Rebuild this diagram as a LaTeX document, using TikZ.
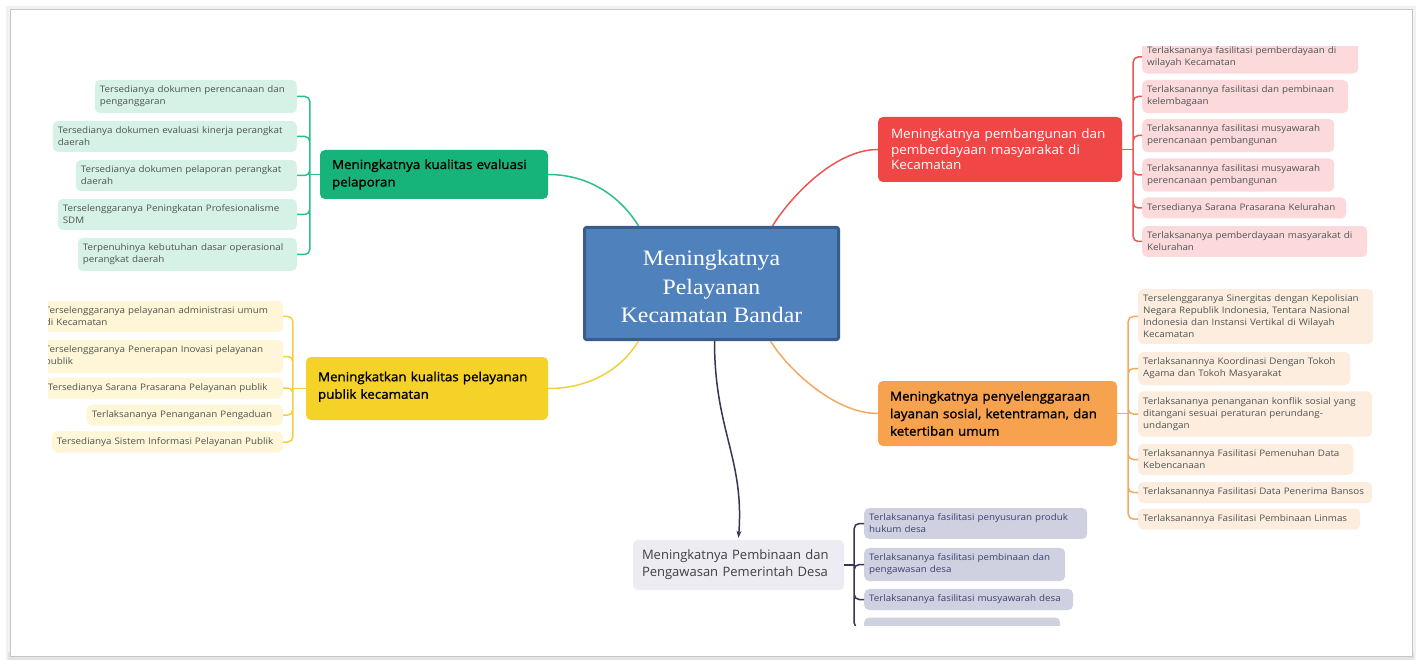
\documentclass[tikz,border=0pt]{standalone}
\usepackage{fontspec}
\setmainfont{Open Sans}
\newfontfamily\hubfont[FakeStretch=1.08]{Liberation Serif}
\newfontfamily\branchfont[FakeBold=1.2,FakeStretch=1.07]{Open Sans}
\newfontfamily\redfont[FakeStretch=1.04]{Open Sans}
\newfontfamily\leaffont[FakeStretch=1.09]{Open Sans}
\usetikzlibrary{positioning,arrows.meta}

\definecolor{hubfill}{HTML}{4F81BD}
\definecolor{hubdraw}{HTML}{385D8A}
\definecolor{gmain}{RGB}{22,180,122}
\definecolor{gleaffill}{RGB}{214,242,230}
\definecolor{gstroke}{RGB}{45,192,135}
\definecolor{ymain}{RGB}{245,210,40}
\definecolor{yleaffill}{RGB}{254,246,214}
\definecolor{ystroke}{RGB}{242,208,60}
\definecolor{rmain}{RGB}{240,70,70}
\definecolor{rleaffill}{RGB}{252,218,220}
\definecolor{rstroke}{RGB}{236,85,85}
\definecolor{omain}{RGB}{246,162,78}
\definecolor{oleaffill}{RGB}{253,237,222}
\definecolor{ostroke}{RGB}{245,168,95}
\definecolor{pmain}{RGB}{236,236,242}
\definecolor{pleaffill}{RGB}{208,209,224}
\definecolor{pstroke}{RGB}{52,54,82}
\definecolor{leaftext}{RGB}{78,84,82}
\definecolor{pleaftext}{RGB}{62,64,112}

\tikzset{
    hub/.style={rectangle, rounded corners=2pt, fill=hubfill, draw=hubdraw, line width=3pt,
        text=white, align=center, font=\hubfont\fontsize{22}{28.5}\selectfont,
        minimum width=254pt, minimum height=112pt},
    branch/.style={rectangle, rounded corners=5pt, inner xsep=12pt, align=left,
        font=\branchfont\fontsize{12.5}{17.5}\selectfont},
    leaf/.style={rectangle, rounded corners=5pt, inner xsep=5pt, inner ysep=6pt, align=left,
        text=leaftext, font=\leaffont\fontsize{9}{12}\selectfont},
    gleaf/.style={leaf, fill=gleaffill, anchor=east},
    yleaf/.style={leaf, fill=yleaffill, anchor=east},
    rleaf/.style={leaf, fill=rleaffill, anchor=west},
    oleaf/.style={leaf, fill=oleaffill, anchor=west},
    pleaf/.style={leaf, fill=pleaffill, anchor=west, text=pleaftext},
    gline/.style={draw=gstroke, line width=1.5pt, rounded corners=5pt},
    yline/.style={draw=ystroke, line width=1.5pt, rounded corners=5pt},
    rline/.style={draw=rstroke, line width=1.5pt, rounded corners=5pt},
    oline/.style={draw=ostroke, line width=1.5pt, rounded corners=5pt},
    pline/.style={draw=pstroke, line width=1.5pt, rounded corners=5pt}
}

\begin{document}
\begin{tikzpicture}[x=1pt,y=-1pt]
    \useasboundingbox (0,0) rectangle (1419,660);
    \fill[gray!10] (6,6) rectangle (1416,660);
    \fill[gray!22] (8,652) rectangle (1414,660);
    \fill[white] (10,10) rectangle (1412,656);
    \draw[gray!45, line width=1pt] (10,10) rectangle (1412,656);
    \begin{scope}
        \clip (48,47) rectangle (1380,625);

        \node[hub] (c) at (711.5,283.5) {\rule{0pt}{22pt}Meningkatnya\\Pelayanan\\Kecamatan Bandar};

        \node[branch, fill=gmain, text width=204pt, minimum height=49pt] (gm) at (434,174.5)
            {Meningkatnya kualitas evaluasi\\pelaporan};
        \node[branch, fill=ymain, text width=218pt, minimum height=63pt, text depth=24pt] (ym) at (427,388.5)
            {Meningkatkan kualitas pelayanan\\publik kecamatan};
        \node[branch, fill=rmain, text=white, text width=218pt, inner xsep=13pt, minimum height=65pt,
            font=\redfont\fontsize{13}{15.5}\selectfont] (rm) at (1000,149.5)
            {Meningkatnya pembangunan dan\\pemberdayaan masyarakat di\\Kecamatan};
        \node[branch, fill=omain, text width=215pt, minimum height=65pt] (om) at (997.5,413.5)
            {Meningkatnya penyelenggaraan\\layanan sosial, ketentraman, dan\\ketertiban umum};
        \node[branch, fill=pmain, text=black!75, text width=193pt, inner xsep=9pt, minimum height=50pt,
            font=\fontsize{13}{17}\selectfont] (pm) at (738.5,565)
            {Meningkatnya Pembinaan dan\\Pengawasan Pemerintah Desa};

        \node[gleaf, text width=192pt] (g1) at (297,96.5) {Tersedianya dokumen perencanaan dan\\penganggaran};
        \node[gleaf, text width=234pt] (g2) at (297,136.5) {Tersedianya dokumen evaluasi kinerja perangkat\\daerah};
        \node[gleaf, text width=211pt] (g3) at (297,175.5) {Tersedianya dokumen pelaporan perangkat\\daerah};
        \node[gleaf, text width=229pt] (g4) at (297,214.5) {Terselenggaranya Peningkatan Profesionalisme\\SDM};
        \node[gleaf, text width=209pt] (g5) at (297,254.5) {Terpenuhinya kebutuhan dasar operasional\\perangkat daerah};

        \node[yleaf, text width=233pt] (y1) at (283,316.5) {Terselenggaranya pelayanan administrasi umum\\di Kecamatan};
        \node[yleaf, text width=233pt] (y2) at (283,356.5) {Terselenggaranya Penerapan Inovasi pelayanan\\publik};
        \node[yleaf, text width=230pt] (y3) at (283,388) {Tersedianya Sarana Prasarana Pelayanan publik};
        \node[yleaf, text width=186pt] (y4) at (283,415) {Terlaksananya Penanganan Pengaduan};
        \node[yleaf, text width=221pt] (y5) at (283,442) {Tersedianya Sistem Informasi Pelayanan Publik};

        \node[rleaf, text width=206pt] (r1) at (1142,57) {Terlaksananya fasilitasi pemberdayaan di\\wilayah Kecamatan};
        \node[rleaf, text width=196pt] (r2) at (1142,96.5) {Terlaksanannya fasilitasi dan pembinaan\\kelembagaan};
        \node[rleaf, text width=182pt] (r3) at (1142,135.5) {Terlaksanannya fasilitasi musyawarah\\perencanaan pembangunan};
        \node[rleaf, text width=182pt] (r4) at (1142,175) {Terlaksanannya fasilitasi musyawarah\\perencanaan pembangunan};
        \node[rleaf, text width=194pt] (r5) at (1142,208) {Tersedianya Sarana Prasarana Kelurahan};
        \node[rleaf, text width=215pt] (r6) at (1142,241.5) {Terlaksananya pemberdayaan masyarakat di\\Kelurahan};

        \node[oleaf, text width=225pt] (o1) at (1138,316.5) {Terselenggaranya Sinergitas dengan Kepolisian\\Negara Republik Indonesia, Tentara Nasional\\Indonesia dan Instansi Vertikal di Wilayah\\Kecamatan};
        \node[oleaf, text width=202pt] (o2) at (1138,368.5) {Terlaksanannya Koordinasi Dengan Tokoh\\Agama dan Tokoh Masyarakat};
        \node[oleaf, text width=224pt] (o3) at (1138,414) {Terlaksananya penanganan konflik sosial yang\\ditangani sesuai peraturan perundang-\\undangan};
        \node[oleaf, text width=205pt] (o4) at (1138,459.5) {Terlaksanannya Fasilitasi Pemenuhan Data\\Kebencanaan};
        \node[oleaf, text width=224pt] (o5) at (1138,492.5) {Terlaksanannya Fasilitasi Data Penerima Bansos};
        \node[oleaf, text width=212pt] (o6) at (1138,519) {Terlaksanannya Fasilitasi Pembinaan Linmas};

        \node[pleaf, text width=213pt] (p1) at (864,523.5) {Terlaksananya fasilitasi penyusuran produk\\hukum desa};
        \node[pleaf, text width=191pt] (p2) at (864,564.5) {Terlaksananya fasilitasi pembinaan dan\\pengawasan desa};
        \node[pleaf, text width=199pt] (p3) at (864,599.5) {Terlaksananya fasilitasi musyawarah desa};
        \node[pleaf, minimum width=196pt, minimum height=21pt] (p4) at (864,628) {};

        \draw[gline] (gm.east) .. controls +(45,0) and +(-15,-25) .. ([xshift=-73pt]c.north);
        \draw[yline] (ym.east) .. controls +(45,0) and +(-15,25) .. ([xshift=-73pt]c.south);
        \draw[rline] (rm.west) .. controls +(-45,0) and +(15,-25) .. ([xshift=61pt]c.north);
        \draw[oline] (om.west) .. controls +(-45,0) and +(15,25) .. ([xshift=59pt]c.south);
        \draw[pline, -{Stealth[length=7pt,width=5pt]}] ([xshift=3pt]c.south) .. controls +(0,90) and +(6,-80) .. ([yshift=2pt]pm.north);

        \draw[gline] (gm.west) -- ++(-10,0) coordinate (gj);
        \draw[gline] (gj) |- (g1.east) (gj) |- (g2.east) (gj) |- (g3.east) (gj) |- (g4.east) (gj) |- (g5.east);
        \draw[yline] (ym.west) -- ++(-13,0) coordinate (yj);
        \draw[yline] (yj) |- (y1.east) (yj) |- (y2.east) (yj) |- (y3.east) (yj) |- (y4.east) (yj) |- (y5.east);
        \draw[rline] (rm.east) -- ++(11,0) coordinate (rj);
        \draw[rline] (rj) |- (r1.west) (rj) |- (r2.west) (rj) |- (r3.west) (rj) |- (r4.west) (rj) |- (r5.west) (rj) |- (r6.west);
        \draw[oline] (om.east) -- ++(11,0) coordinate (oj);
        \draw[oline] (oj) |- (o1.west) (oj) |- (o2.west) (oj) |- (o3.west) (oj) |- (o4.west) (oj) |- (o5.west) (oj) |- (o6.west);
        \draw[pline] (pm.east) -- ++(10,0) coordinate (pj);
        \draw[pline] (pj) |- (p1.west) (pj) |- (p2.west) (pj) |- (p3.west) (pj) |- (p4.west);
    \end{scope}
\end{tikzpicture}
\end{document}
